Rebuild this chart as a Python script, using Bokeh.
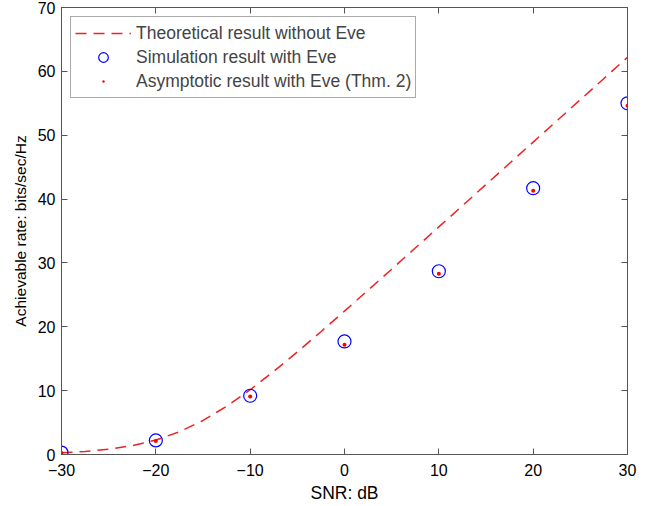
from bokeh.plotting import figure
from bokeh.models import Range1d, LinearAxis, FixedTicker, Legend, LegendItem
from bokeh.embed import file_html
from bokeh.resources import INLINE

# Theoretical result without Eve (dashed curve)
snr_curve = [-30, -27.5, -25, -22.5, -20, -17.5, -15, -12.5, -10, -7.5, -5, -2.5,
             0, 2.5, 5, 7.5, 10, 12.5, 15, 17.5, 20, 22.5, 25, 27.5, 30]
rate_theory = [0.27, 0.47, 0.82, 1.38, 2.26, 3.56, 5.33, 7.55, 10.14, 13.01, 16.06, 19.23,
               22.46, 25.73, 29.02, 32.33, 35.64, 38.96, 42.28, 45.60, 48.92, 52.24, 55.56, 58.88, 62.20]

# Simulation and asymptotic results with Eve
snr_pts = [-30, -20, -10, 0, 10, 20, 30]
rate_sim = [0.3, 2.2, 9.2, 17.7, 28.7, 41.7, 55.0]
rate_asym = [0.25, 2.1, 9.1, 17.2, 28.3, 41.3, 54.6]

x_ticks = [-30, -20, -10, 0, 10, 20, 30]
y_ticks = [0, 10, 20, 30, 40, 50, 60, 70]

FONT = "Liberation Sans"
AX = "#555555"

p = figure(frame_width=566, frame_height=447, output_backend="svg", toolbar_location=None,
           x_range=Range1d(-30, 30), y_range=Range1d(0, 70),
           min_border_left=61, min_border_right=20, min_border_top=7, min_border_bottom=30)
p.xgrid.visible = False
p.ygrid.visible = False
p.outline_line_color = AX
p.outline_line_width = 1

def style(ax, ticks, labels=True):
    ax.ticker = FixedTicker(ticks=ticks)
    ax.axis_line_color = AX
    ax.major_tick_line_color = AX
    ax.major_tick_in = 6
    ax.major_tick_out = 0
    ax.minor_tick_line_color = None
    ax.major_label_text_font = FONT
    ax.major_label_text_font_size = "16px"
    ax.major_label_text_color = "black"
    ax.axis_label_text_font = FONT
    ax.axis_label_text_font_size = "16px"
    ax.axis_label_text_font_style = "normal"
    ax.axis_label_text_color = "black"
    if not labels:
        ax.major_label_overrides = {t: "" for t in ticks}
        ax.major_label_standoff = 0

style(p.xaxis[0], x_ticks)
style(p.yaxis[0], y_ticks)
p.xaxis[0].axis_label = "SNR: dB"
p.xaxis[0].axis_label_text_font_size = "17.5px"
p.yaxis[0].axis_label = "Achievable rate: bits/sec/Hz"
p.yaxis[0].axis_label_text_font_size = "15.5px"
p.xaxis[0].major_label_standoff = 9
p.xaxis[0].axis_label_standoff = 4
p.yaxis[0].major_label_standoff = 6
p.yaxis[0].axis_label_standoff = 6

top = LinearAxis()
style(top, x_ticks, labels=False)
p.add_layout(top, "above")
right = LinearAxis()
style(right, y_ticks, labels=False)
p.add_layout(right, "right")

r_line = p.line(snr_curve, rate_theory, line_color="#ee2222", line_width=1.5, line_dash="11 7")
r_circ = p.scatter(snr_pts, rate_sim, marker="circle", size=13, fill_color=None,
                   line_color="#0000ff", line_width=1.2)
r_dot = p.scatter(snr_pts, rate_asym, marker="dot", size=16, line_color="#ff0000",
                  fill_color="#ff0000")

legend = Legend(items=[
    LegendItem(label="Theoretical result without Eve", renderers=[r_line]),
    LegendItem(label="Simulation result with Eve", renderers=[r_circ]),
    LegendItem(label="Asymptotic result with Eve (Thm. 2)", renderers=[r_dot]),
], location="top_left")
legend.margin = 9
legend.padding = 4
legend.spacing = 0
legend.glyph_width = 56
legend.glyph_height = 24
legend.label_height = 24
legend.label_standoff = 5
legend.label_text_font = FONT
legend.label_text_font_size = "17.5px"
legend.border_line_color = AX
legend.border_line_width = 1
legend.background_fill_alpha = 1
p.add_layout(legend)

open("out.html", "w").write(file_html(p, INLINE))
